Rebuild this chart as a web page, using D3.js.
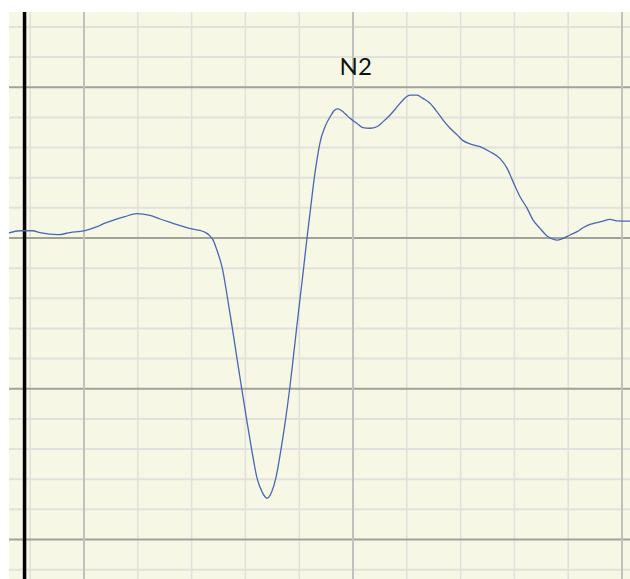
<!DOCTYPE html>
<html>
<head>
<meta charset="utf-8">
<script src="https://cdn.jsdelivr.net/npm/d3@7"></script>
<style>
  html, body { margin: 0; padding: 0; background: #ffffff; }
  svg { display: block; }
</style>
</head>
<body>
<svg id="chart" width="630" height="579"></svg>
<script>
// ---- data (time in ms, amplitude in µV) ----
const times = [-27.9,-23.8,-19.0,-16.4,-9.7,-5.2,0,4.1,7.8,11.5,15.2,19.7,24.5,28.3,32.0,36.4,40.1,
  43.1,45.4,46.8,48.0,49.4,51.5,53.4,55.2,56.9,58.7,60.5,62.3,64.4,66.2,68.0,69.9,71.4,73.2,74.9,76.4,77.7,79.0,80.3,81.6,82.9,84.2,85.5,86.6,87.7,
  89.6,91.5,93.3,94.4,95.9,97.0,98.9,101.5,103.7,106.3,108.9,111.2,113.8,116.4,118.6,121.2,123.8,126.0,128.6,131.2,133.5,136.1,138.7,140.9,143.5,147.2,150.9,154.6,157.3,159.5,162.1,164.7,166.9,169.5,172.1,174.4,175.8,178.1,180.7,183.3,185.5,188.1,190.7,192.9,195.5,198.1,203.0];
const amplitudes = [0.17,0.24,0.24,0.18,0.11,0.18,0.24,0.35,0.49,0.61,0.71,0.81,0.75,0.63,0.52,0.39,0.30,
  0.25,0.17,0.07,-0.07,-0.40,-1.03,-2.02,-3.02,-4.01,-5.04,-6.04,-7.00,-7.99,-8.42,-8.63,-8.39,-7.93,-7.03,-6.04,-5.04,-4.05,-3.02,-2.02,-1.03,0,0.96,1.92,2.59,3.15,
  3.69,4.02,4.25,4.28,4.21,4.13,3.97,3.80,3.66,3.64,3.69,3.86,4.08,4.35,4.58,4.74,4.74,4.63,4.47,4.19,3.91,3.64,3.42,3.23,3.12,3.03,2.86,2.64,2.31,1.87,1.37,0.99,0.60,0.32,0.07,-0.04,-0.07,-0.01,0.10,0.21,0.34,0.45,0.51,0.56,0.62,0.57,0.56];
const xGridTicks = [-20,0,20,40,60,80,100,120,140,160,180,200];
const yGridTicks = [-11,-10,-9,-8,-7,-6,-5,-4,-3,-2,-1,0,1,2,3,4,5,6,7];
const markerTime = [-22.1];
const peakLabels = ["N2"];
const peakLabelPos = [{t: 101, v: 5.4}];

// ---- layout ----
const plot = {left: 9, top: 12, right: 630, bottom: 579};
const pxPerMinorX = 53.8, pxPerMinorY = 30.15;
const x0px = 84, y0px = 238;

const x = d3.scaleLinear()
  .domain([(plot.left - x0px) / pxPerMinorX * 20, (plot.right - x0px) / pxPerMinorX * 20])
  .range([plot.left, plot.right]);
const y = d3.scaleLinear()
  .domain([(y0px - plot.bottom) / pxPerMinorY, (y0px - plot.top) / pxPerMinorY])
  .range([plot.bottom, plot.top]);

const svg = d3.select("#chart");

svg.append("rect")
  .attr("x", plot.left).attr("y", plot.top)
  .attr("width", plot.right - plot.left).attr("height", plot.bottom - plot.top)
  .attr("fill", "#f6f7e5");

const isMajorX = t => t % 100 === 0;
const isMajorY = v => v % 5 === 0;

const grid = svg.append("g");
grid.selectAll("line.hmin").data(yGridTicks.filter(v => !isMajorY(v))).join("line")
  .attr("x1", plot.left).attr("x2", plot.right)
  .attr("y1", d => y(d)).attr("y2", d => y(d))
  .attr("stroke", "#e2e2dc").attr("stroke-width", 2);
grid.selectAll("line.vmin").data(xGridTicks.filter(t => !isMajorX(t))).join("line")
  .attr("x1", d => x(d)).attr("x2", d => x(d))
  .attr("y1", plot.top).attr("y2", plot.bottom)
  .attr("stroke", "#e0e0dc").attr("stroke-width", 1.5);
grid.selectAll("line.hmaj").data(yGridTicks.filter(isMajorY)).join("line")
  .attr("x1", plot.left).attr("x2", plot.right)
  .attr("y1", d => y(d)).attr("y2", d => y(d))
  .attr("stroke", "#a2a29c").attr("stroke-width", 2);
grid.selectAll("line.vmaj").data(xGridTicks.filter(isMajorX)).join("line")
  .attr("x1", d => x(d)).attr("x2", d => x(d))
  .attr("y1", plot.top).attr("y2", plot.bottom)
  .attr("stroke", "#c2c2bc").attr("stroke-width", 2);

svg.selectAll("line.marker").data(markerTime).join("line")
  .attr("x1", d => x(d)).attr("x2", d => x(d))
  .attr("y1", plot.top).attr("y2", plot.bottom)
  .attr("stroke", "#000").attr("stroke-width", 3.5);

const pts = times.map((t, i) => [t, amplitudes[i]]);
const line = d3.line().x(d => x(d[0])).y(d => y(d[1])).curve(d3.curveMonotoneX);
svg.append("path")
  .attr("d", line(pts))
  .attr("fill", "none")
  .attr("stroke", "#4a66b4")
  .attr("stroke-width", 1.3);

svg.selectAll("text.peak").data(peakLabels).join("text")
  .attr("x", (d, i) => x(peakLabelPos[i].t))
  .attr("y", (d, i) => y(peakLabelPos[i].v))
  .attr("text-anchor", "middle")
  .attr("font-family", "Lato, 'Open Sans', sans-serif")
  .attr("font-size", 24)
  .attr("fill", "#111")
  .text(d => d);
</script>
</body>
</html>
